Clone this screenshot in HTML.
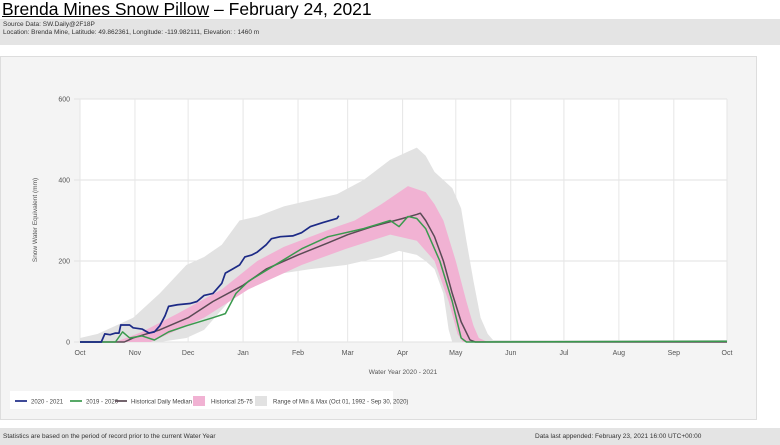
<!DOCTYPE html>
<html><head><meta charset="utf-8"><style>
body{margin:0;width:780px;height:445px;background:#fff;font-family:"Liberation Sans",sans-serif;overflow:hidden;position:relative}
#title{position:absolute;left:2px;top:-1px;font-size:17.5px;color:#000;white-space:nowrap}
#title u{text-decoration:underline}
#info{position:absolute;left:0;top:19px;width:780px;height:26px;background:#e4e4e4;font-size:6.5px;color:#333;line-height:8px;padding:2px 3px;box-sizing:border-box}
#panel{position:absolute;left:0;top:56px;width:757px;height:364px;background:#f4f4f4;border:1px solid #ddd;box-sizing:border-box}
#footer{position:absolute;left:0;top:428px;width:780px;height:17px;background:#e4e4e4;font-size:6.5px;color:#333}
svg{position:absolute;left:0;top:0}
</style></head><body>
<div id="title"><u>Brenda Mines Snow Pillow</u> – February 24, 2021</div>
<div id="info">Source Data: SW.Daily@2F18P<br>Location: Brenda Mine, Latitude: 49.862361, Longitude: -119.982111, Elevation: : 1460 m</div>
<div id="panel"></div>
<div id="footer"><span style="position:absolute;left:3px;top:5px">Statistics are based on the period of record prior to the current Water Year</span><span style="position:absolute;left:535px;top:5px">Data last appended: February 23, 2021 16:00 UTC+00:00</span></div>
<svg id="chart" width="780" height="445"></svg>
<script>
const months=["Oct","Nov","Dec","Jan","Feb","Mar","Apr","May","Jun","Jul","Aug","Sep","Oct"];
const monthDays=[0,31,61,92,123,151,182,212,243,273,304,335,365];
const yTicks=[0,200,400,600];
const maxDays=[0,10,30,45,60,70,80,90,100,115,125,135,145,160,175,185,190,195,200,205,210,215,218,222,226,230,233,365];
const maxVals=[10,20,60,120,190,210,240,300,310,335,345,355,365,400,450,470,480,460,420,400,380,330,250,150,60,20,5,5];
const minDays=[0,45,60,70,80,90,100,105,115,130,150,170,180,190,195,200,205,208,210,365];
const minVals=[0,0,10,30,80,130,150,160,170,180,190,210,225,215,200,180,120,30,0,0];
const p75Days=[0,20,35,55,80,100,115,130,145,155,170,185,195,200,205,212,218,222,225,230,365];
const p75Vals=[0,0,25,70,130,200,235,260,285,300,340,385,370,340,300,200,100,40,10,0,0];
const p25Days=[0,40,50,70,95,110,125,150,175,190,200,204,208,213,216,365];
const p25Vals=[0,0,20,60,130,160,190,230,265,250,200,150,100,20,0,0];
const medDays=[0,25,30,45,61,75,92,105,123,140,151,165,182,190,192,195,200,205,210,215,220,223,365];
const medVals=[0,0,10,30,60,100,140,180,215,245,265,285,305,315,318,300,260,200,120,50,5,0,0];
const prevDays=[0,20,24,28,35,42,50,60,75,82,88,95,110,125,140,160,175,180,185,190,195,203,210,215,218,365];
const prevVals=[0,0,25,10,15,5,25,40,60,70,120,150,190,230,260,280,300,285,310,305,280,200,100,10,0,2];
const curDays=[0,12,14,17,20,22,23,28,30,35,39,42,45,48,50,55,62,66,70,75,80,82,86,90,93,97,100,105,108,113,120,125,130,137,145,146];
const curVals=[0,0,20,18,22,22,42,42,35,32,22,25,40,65,88,92,95,100,115,120,145,170,180,190,210,215,222,240,255,260,262,270,285,295,305,312];

const X0=80,X1=727,Y0=342,Y1=99;
const xs=d=>X0+d/365*(X1-X0);
const ys=v=>Y0-v/600*(Y0-Y1);
const svg=document.getElementById('chart');
const NS="http://www.w3.org/2000/svg";
function mk(t,a){const e=document.createElementNS(NS,t);for(const k in a)e.setAttribute(k,a[k]);svg.appendChild(e);return e;}
let r=mk('rect',{x:X0,y:Y1,width:X1-X0,height:Y0-Y1,fill:'#fff'});


yTicks.forEach(v=>{
 let l=mk('line',{x1:X0-6,x2:X1,y1:ys(v),y2:ys(v),stroke:'#e2e2e2','stroke-width':1});
 
 
 let t=mk('text',{x:X0-10,y:ys(v)+2.5,'font-size':7,fill:'#555','text-anchor':'end'});t.textContent=v;
 
 
});
months.forEach((m,i)=>{
 const x=xs(monthDays[i]);
 let l=mk('line',{x1:x,x2:x,y1:Y1,y2:Y0,stroke:'#e6e6e6','stroke-width':1});
 
 
 let t=mk('text',{x:x,y:Y0+13,'font-size':7,fill:'#555','text-anchor':'middle'});t.textContent=m;
 
 
});
function band(d1,v1,d2,v2,fill,name){
 let p=d1.map((d,i)=>xs(d)+','+ys(v1[i]));
 let q=d2.map((d,i)=>xs(d)+','+ys(v2[i])).reverse();
 let e=mk('polygon',{points:p.concat(q).join(' '),fill:fill});
 
 
}
function line(d,v,col,w,name){
 let e=mk('polyline',{points:d.map((x,i)=>xs(x)+','+ys(v[i])).join(' '),fill:'none',stroke:col,'stroke-width':w,'stroke-linejoin':'round'});
 
 
}
band(maxDays,maxVals,minDays,minVals,'#e2e2e2','min-max-range');
band(p75Days,p75Vals,p25Days,p25Vals,'#f1b2d3','historical-25-75');
line(medDays,medVals,'#5b4a55',1.5,'historical-median-line');
line(prevDays,prevVals,'#3a9a4e',1.5,'line-2019-2020');
line(curDays,curVals,'#1c2a86',1.7,'line-2020-2021');
let yt=mk('text',{x:37,y:220,'font-size':6.5,fill:'#555','text-anchor':'middle',transform:'rotate(-90 37 220)'});yt.textContent='Snow Water Equivalent (mm)';


let xt=mk('text',{x:403,y:374,'font-size':6.5,fill:'#555','text-anchor':'middle'});xt.textContent='Water Year 2020 - 2021';


let lg=mk('rect',{x:10,y:391,width:383,height:18,fill:'#fff'});


const legendLabels=["2020 - 2021","2019 - 2020","Historical Daily Median","Historical 25-75","Range of Min & Max (Oct 01, 1992 - Sep 30, 2020)"];
const legendX=[15,70,115,193,255];
const legendCols=['#1c2a86','#3a9a4e','#5b4a55','#f1b2d3','#e2e2e2'];
legendLabels.forEach((s,i)=>{
 let m;
 if(i<3) m=mk('line',{x1:legendX[i],x2:legendX[i]+12,y1:401,y2:401,stroke:legendCols[i],'stroke-width':1.7});
 else m=mk('rect',{x:legendX[i],y:396,width:12,height:10,fill:legendCols[i]});
 
 
 let t=mk('text',{x:legendX[i]+(i<3?16:18),y:403.5,'font-size':6,fill:'#444'});t.textContent=s;
 
 
});
</script>
</body></html>
